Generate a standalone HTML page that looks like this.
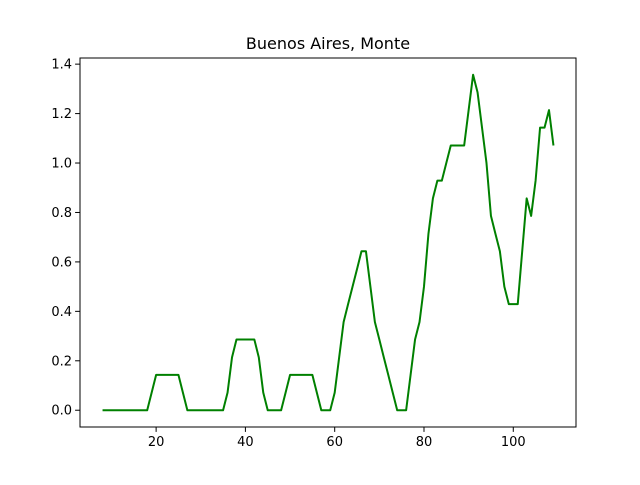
<!DOCTYPE html>
<html><head><meta charset="utf-8"><style>
body{margin:0;background:#fff;}
svg text{font-family:"DejaVu Sans","Liberation Sans",sans-serif;fill:#000;}
</style></head><body>
<svg id="chart" width="640" height="480" xmlns="http://www.w3.org/2000/svg">
<rect width="640" height="480" fill="#fff"/>
<text x="328" y="49" font-size="16" text-anchor="middle">Buenos Aires, Monte</text>
<g id="plot"></g>
<rect x="80" y="58" width="496" height="369" fill="none" stroke="#000" stroke-width="1"/>
</svg>
<script>
const xStart = 8;
const values = [0,0,0,0,0,0,0,0,0,0,0,0.071,0.143,0.143,0.143,0.143,0.143,0.143,0.071,0,0,0,0,0,0,0,0,0,0.071,0.214,0.286,0.286,0.286,0.286,0.286,0.214,0.071,0,0,0,0,0.071,0.143,0.143,0.143,0.143,0.143,0.143,0.071,0,0,0,0.071,0.214,0.357,0.429,0.5,0.571,0.643,0.643,0.5,0.357,0.286,0.214,0.143,0.071,0,0,0,0.143,0.286,0.357,0.5,0.714,0.857,0.929,0.929,1.0,1.071,1.071,1.071,1.071,1.214,1.357,1.286,1.143,1.0,0.786,0.714,0.643,0.5,0.429,0.429,0.429,0.643,0.857,0.786,0.929,1.143,1.143,1.214,1.071];
const xTicks = [20,40,60,80,100];
const yTicks = [0.0,0.2,0.4,0.6,0.8,1.0,1.2,1.4];
const xs = values.map((v,i)=>xStart+i);
const NS="http://www.w3.org/2000/svg";
const L=80,R=576,T=58,B=427;
const xmin=Math.min(...xs),xmax=Math.max(...xs),xm=(xmax-xmin)*0.05;
const ymin=Math.min(...values),ymax=Math.max(...values),ym=(ymax-ymin)*0.05;
const X=x=>L+(x-(xmin-xm))/((xmax+xm)-(xmin-xm))*(R-L);
const Y=y=>B-(y-(ymin-ym))/((ymax+ym)-(ymin-ym))*(B-T);
const g=document.getElementById('plot');
function mk(t,a){const e=document.createElementNS(NS,t);for(const k in a)e.setAttribute(k,a[k]);g.appendChild(e);return e;}
xTicks.forEach(t=>{
  const l=mk('line',{x1:X(t),x2:X(t),y1:B,y2:B+4.9,stroke:'#000'});
  
  
  const tx=mk('text',{x:X(t),y:B+19,'font-size':'13','text-anchor':'middle'});
  
  
  tx.textContent=t;
});
yTicks.forEach(t=>{
  const l=mk('line',{x1:L-4.9,x2:L,y1:Y(t),y2:Y(t),stroke:'#000'});
  
  
  const tx=mk('text',{x:L-8,y:Y(t)+4.5,'font-size':'13','text-anchor':'end'});
  
  
  tx.textContent=t.toFixed(1);
});
const p=mk('polyline',{points:xs.map((x,i)=>X(x)+','+Y(values[i])).join(' '),fill:'none',stroke:'#008000','stroke-width':'2','stroke-linejoin':'round'});


</script>
</body></html>
